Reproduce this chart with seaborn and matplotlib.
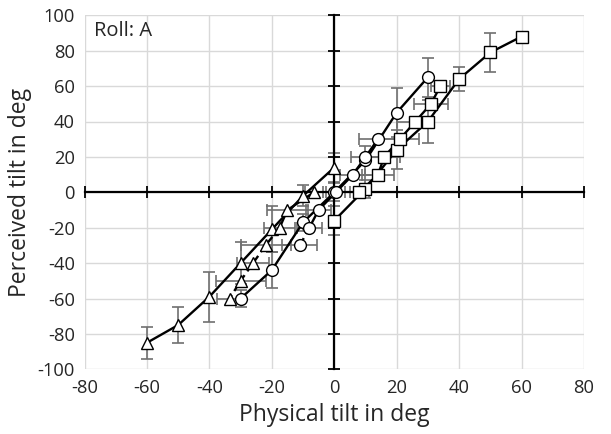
import matplotlib
matplotlib.use("Agg")
import matplotlib.pyplot as plt
import seaborn as sns
import pandas as pd

# ---- data ----
x_ticks = [-80, -60, -40, -20, 0, 20, 40, 60, 80]
y_ticks = [-100, -80, -60, -40, -20, 0, 20, 40, 60, 80, 100]

# triangles: ascending (physical tilt fixed)
tri_a_x = [-60, -50, -40, -30, -20, -10, 0]
tri_a_y = [-85, -75, -59, -40, -21, -2, 14]
tri_a_err = [9, 10, 14, 12, 13, 6, 8]
# triangles: perceived fixed
tri_b_y = [0, -10, -20, -30, -40, -50, -60]
tri_b_x = [-6.5, -15, -17.5, -22, -26, -30, -33.5]
tri_b_err = [3, 6.5, 5, 8, 5, 8, 4]

# circles
cir_a_x = [-30, -20, -10, 0, 10, 20, 30]
cir_a_y = [-60, -44, -17, 0, 18, 45, 65]
cir_a_err = [5, 10, 5, 5, 8, 14, 11]
cir_b_y = [30, 20, 10, 0, -10, -20, -30]
cir_b_x = [14, 10, 6, 0.5, -5, -8, -11]
cir_b_err = [6, 4.5, 4, 3, 4, 4, 5.6]

# squares
sq_a_x = [60, 50, 40, 30, 20, 10, 0]
sq_a_y = [88, 79, 64, 40, 24, 2, -16]
sq_a_err = [2, 11, 7, 12, 11, 5, 8]
sq_b_y = [60, 50, 40, 30, 20, 10, 0]
sq_b_x = [34, 31, 26, 21, 16, 14, 8]
sq_b_err = [3, 5.5, 6, 6, 5, 5, 3]

sns.set_style("white")
plt.rcParams['font.family'] = ['Open Sans', 'DejaVu Sans']
plt.rcParams['axes.unicode_minus'] = False

fig = plt.figure(figsize=(6.11, 4.34), dpi=100)
pos = [84.5 / 611, 1 - 369.3 / 434, (584 - 84.5) / 611, (369.3 - 15.3) / 434]
ax = fig.add_axes(pos)
ax.set_xlim(-80, 80)
ax.set_ylim(-100, 100)
ax.set_xticks(x_ticks)
ax.set_yticks(y_ticks)
ax.grid(True, color='#d9d9d9', lw=1.0)
ax.set_axisbelow(True)
for s in ax.spines.values():
    s.set_visible(False)
ax.tick_params(length=0, labelsize=13.2, colors='#262626', pad=7)
ax.set_xlabel("Physical tilt in deg", fontsize=16.5, color='#262626', labelpad=4)
ax.set_ylabel("Perceived tilt in deg", fontsize=16.5, color='#262626', labelpad=4)

# zero-crossing axes
ax2 = fig.add_axes(pos, sharex=ax, sharey=ax)
ax2.patch.set_alpha(0)
ax2.spines['left'].set_position(('data', 0))
ax2.spines['bottom'].set_position(('data', 0))
ax2.spines['right'].set_visible(False)
ax2.spines['top'].set_visible(False)
for k in ['left', 'bottom']:
    ax2.spines[k].set_color('black')
    ax2.spines[k].set_linewidth(1.6)
ax2.tick_params(direction='inout', length=9, width=1.3, color='black',
                bottom=True, left=True, top=False, right=False,
                labelleft=False, labelbottom=False)
ax2.set_xticks(x_ticks)
ax2.set_yticks(y_ticks)

err_kw = dict(fmt='none', ecolor='#707070', elinewidth=1.2, capsize=4, capthick=1.2, zorder=2)
line_kw = dict(color='black', lw=1.7, zorder=3)
mk_kw = dict(mfc='white', mec='black', mew=1.0, zorder=4, lw=0)

def draw(ax, xa, ya, ea, xb, yb, eb, marker, ms, dash_from):
    ax.errorbar(xa, ya, yerr=ea, **err_kw)
    ax.errorbar(xb, yb, xerr=eb, **err_kw)
    da = pd.DataFrame({'x': xa, 'y': ya})
    sns.lineplot(data=da, x='x', y='y', sort=False, estimator=None, ax=ax, **line_kw)
    db = pd.DataFrame({'x': xb, 'y': yb})
    sns.lineplot(data=db.iloc[:dash_from + 1], x='x', y='y', sort=False, estimator=None, ax=ax, **line_kw)
    if dash_from < len(xb) - 1:
        sns.lineplot(data=db.iloc[dash_from:], x='x', y='y', sort=False, estimator=None, ax=ax,
                     linestyle=(0, (3, 2)), **line_kw)
    ax.plot(xa, ya, marker=marker, ms=ms, **mk_kw)
    ax.plot(xb, yb, marker=marker, ms=ms, **mk_kw)

draw(ax2, tri_a_x, tri_a_y, tri_a_err, tri_b_x, tri_b_y, tri_b_err, '^', 9, 2)
draw(ax2, cir_a_x, cir_a_y, cir_a_err, cir_b_x, cir_b_y, cir_b_err, 'o', 8.5, 5)
draw(ax2, sq_a_x, sq_a_y, sq_a_err, sq_b_x, sq_b_y, sq_b_err, 's', 8.3, 6)
ax2.set_xlabel('')
ax2.set_ylabel('')
ax2.set_xlim(-80, 80)
ax2.set_ylim(-100, 100)

ax.text(-77, 91, "Roll: A", fontsize=14.5, color='#262626', va='center', ha='left')

fig.savefig("out.png", dpi=100)
